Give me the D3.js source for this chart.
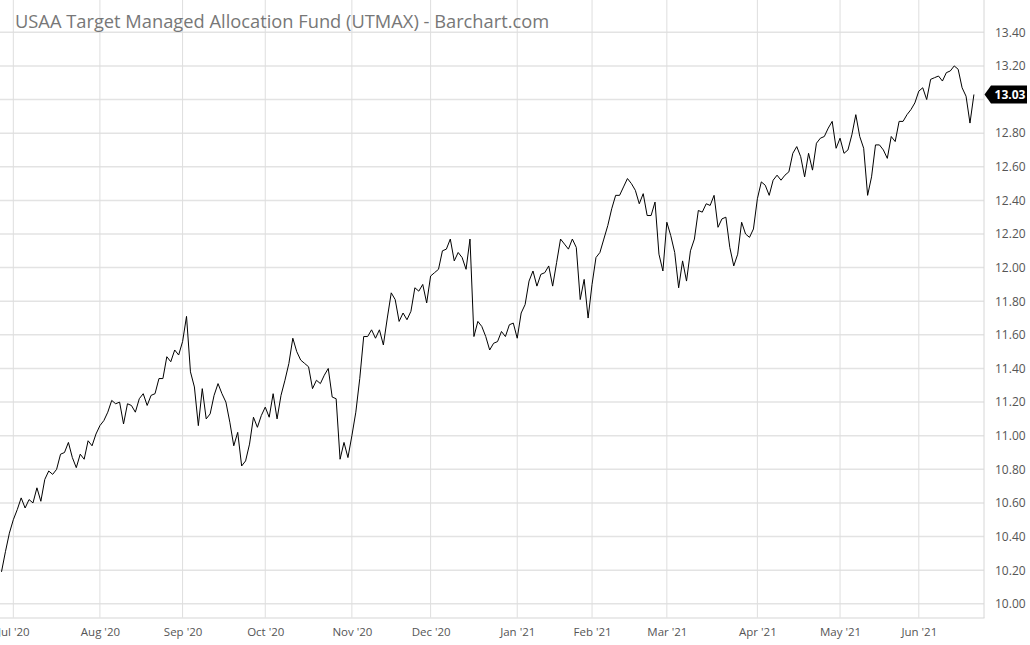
<!DOCTYPE html>
<html>
<head>
<meta charset="utf-8">
<script src="https://cdn.jsdelivr.net/npm/d3@7"></script>
<style>
  html, body { margin: 0; padding: 0; background: #fff; }
  svg { display: block; font-family: "Open Sans", "Noto Sans", sans-serif; }
</style>
</head>
<body>
<svg id="chart" width="1030" height="645"></svg>
<script>
// ---- data (daily closes, session index relative to 1 Jul 2020) ----
const title = "USAA Target Managed Allocation Fund (UTMAX) - Barchart.com";
const firstSession = -3;
const closes = [
  10.19,10.31,10.42,10.50,10.56,10.63,10.57,10.62,10.60,10.69,
  10.61,10.74,10.79,10.77,10.80,10.89,10.90,10.96,10.87,10.81,
  10.89,10.86,10.97,10.94,11.01,11.06,11.09,11.14,11.21,11.19,
  11.20,11.07,11.19,11.18,11.14,11.22,11.25,11.18,11.24,11.25,
  11.34,11.34,11.47,11.44,11.51,11.48,11.56,11.71,11.38,11.29,
  11.06,11.28,11.10,11.13,11.24,11.31,11.25,11.20,11.08,10.94,
  11.02,10.82,10.85,10.95,11.11,11.05,11.12,11.17,11.11,11.25,
  11.10,11.24,11.33,11.43,11.58,11.50,11.45,11.43,11.41,11.28,
  11.33,11.31,11.36,11.40,11.23,11.22,10.86,10.96,10.87,11.00,
  11.14,11.34,11.59,11.59,11.63,11.58,11.63,11.54,11.70,11.85,
  11.81,11.68,11.73,11.69,11.74,11.88,11.86,11.90,11.79,11.95,
  11.97,11.99,12.10,12.11,12.17,12.04,12.09,12.06,11.99,12.17,
  11.59,11.68,11.65,11.59,11.51,11.55,11.56,11.62,11.59,11.66,
  11.67,11.58,11.73,11.78,11.92,11.98,11.89,11.96,11.97,12.01,
  11.89,12.03,12.17,12.14,12.11,12.17,12.12,11.81,11.93,11.70,
  11.90,12.06,12.09,12.17,12.25,12.35,12.43,12.43,12.48,12.53,
  12.50,12.46,12.38,12.44,12.31,12.31,12.39,12.08,11.98,12.27,
  12.19,12.09,11.88,12.04,11.92,12.10,12.17,12.34,12.33,12.38,
  12.37,12.43,12.24,12.29,12.30,12.12,12.01,12.08,12.27,12.20,
  12.18,12.23,12.41,12.51,12.49,12.43,12.52,12.55,12.52,12.55,
  12.57,12.68,12.72,12.66,12.54,12.68,12.58,12.74,12.77,12.78,
  12.83,12.87,12.71,12.77,12.68,12.70,12.79,12.91,12.78,12.71,
  12.43,12.54,12.73,12.73,12.70,12.65,12.78,12.75,12.87,12.87,
  12.91,12.94,12.98,13.05,13.07,13.00,13.12,13.13,13.14,13.11,
  13.16,13.17,13.20,13.18,13.07,13.02,12.86,13.03
];
const monthLabels = ["Jul '20","Aug '20","Sep '20","Oct '20","Nov '20","Dec '20",
                     "Jan '21","Feb '21","Mar '21","Apr '21","May '21","Jun '21"];
const monthSessions = [0,22,43,64,86,106,128,147,166,189,210,230];
const priceTicks = [10.0,10.2,10.4,10.6,10.8,11.0,11.2,11.4,11.6,11.8,12.0,12.2,12.4,12.6,12.8,13.0,13.2,13.4];
const lastPrice = 13.03;

// ---- layout ----
const W = 1030, H = 645;
const plotRight = 984, plotBottom = 618;
const svg = d3.select("#chart");

const x = d3.scaleLinear().domain([0, 230]).range([13.3, 918.8]);
const y = d3.scaleLinear().domain([10.0, 13.4]).range([603.8, 32.3]);

const pts = closes.map((v, i) => ({ s: firstSession + i, v }));

// gridlines
const grid = svg.append("g");
grid.selectAll("line.h").data(priceTicks).join("line")
  .attr("x1", 0).attr("x2", plotRight)
  .attr("y1", d => y(d)).attr("y2", d => y(d))
  .attr("stroke", "#e3e3e3").attr("stroke-width", 1.5);
grid.selectAll("line.v").data(monthSessions).join("line")
  .attr("x1", d => x(d)).attr("x2", d => x(d))
  .attr("y1", 0).attr("y2", plotBottom)
  .attr("stroke", "#dedede").attr("stroke-width", 1);
// bottom and right borders
svg.append("line").attr("x1", 0).attr("x2", plotRight + 0.5)
  .attr("y1", plotBottom).attr("y2", plotBottom)
  .attr("stroke", "#e3e3e3").attr("stroke-width", 1.5);
svg.append("line").attr("x1", plotRight).attr("x2", plotRight)
  .attr("y1", 0).attr("y2", plotBottom)
  .attr("stroke", "#d6d6d6").attr("stroke-width", 1);

// title
svg.append("text").attr("x", 15).attr("y", 28)
  .attr("font-size", 18.3).attr("fill", "#777").text(title);

// right axis labels (labels hidden behind the last-price marker are skipped)
const ly = y(lastPrice);
const shownTicks = priceTicks.filter(t => Math.abs(y(t) - ly) > 14);
const yAxis = d3.axisRight(y).tickValues(shownTicks).tickFormat(d3.format(".2f")).tickSize(0).tickPadding(0);
const ya = svg.append("g").attr("transform", `translate(${plotRight + 11},0)`).call(yAxis);
ya.select(".domain").remove();
ya.selectAll("text").attr("font-size", 12).attr("fill", "#555").attr("font-family", "Open Sans, sans-serif");

// bottom axis labels
const xAxis = d3.axisBottom(x).tickValues(monthSessions)
  .tickFormat((d, i) => monthLabels[i]).tickSize(0).tickPadding(0);
const xa = svg.append("g").attr("transform", `translate(0,${plotBottom + 10})`).call(xAxis);
xa.select(".domain").remove();
xa.selectAll("text").attr("font-size", 11.5).attr("fill", "#555").attr("font-family", "Open Sans, sans-serif");

// price line
const line = d3.line().x(d => x(d.s)).y(d => y(d.v));
svg.append("path").datum(pts).attr("d", line)
  .attr("fill", "none").attr("stroke", "#000").attr("stroke-width", 1)
  .attr("stroke-linejoin", "round");

// last price marker
const tipX = plotRight + 0.5, bodyX = plotRight + 7, endX = 1027, hh = 9;
svg.append("path")
  .attr("d", `M${tipX},${ly} L${bodyX},${ly - hh} L${endX},${ly - hh} L${endX},${ly + hh} L${bodyX},${ly + hh} Z`)
  .attr("fill", "#000");
svg.append("text").attr("x", (bodyX + endX) / 2 + 1).attr("y", ly).attr("dy", "0.35em")
  .attr("text-anchor", "middle").attr("font-size", 12).attr("font-weight", "bold")
  .attr("fill", "#fff").text(d3.format(".2f")(lastPrice));
</script>
</body>
</html>
